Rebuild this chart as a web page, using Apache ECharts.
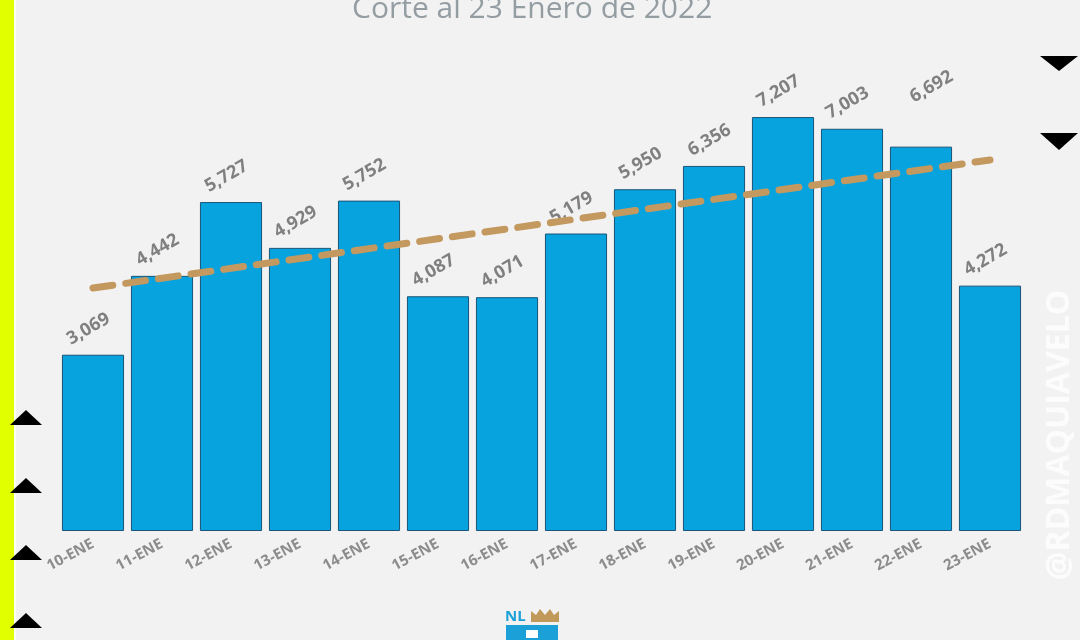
<!DOCTYPE html>
<html><head><meta charset="utf-8">
<script src="https://cdn.jsdelivr.net/npm/echarts@6/dist/echarts.min.js"></script>
<style>html,body{margin:0;padding:0;background:#f2f2f2}#c{width:1080px;height:640px}</style>
</head><body><div id="c"></div>
<script>
const categories = ['10-ENE','11-ENE','12-ENE','13-ENE','14-ENE','15-ENE','16-ENE','17-ENE','18-ENE','19-ENE','20-ENE','21-ENE','22-ENE','23-ENE'];
const values = [3069,4442,5727,4929,5752,4087,4071,5179,5950,6356,7207,7003,6692,4272];
const trendEnds = [4230, 6460];
const titleText = 'Corte al 23 Enero de 2022';

const trendData = categories.map((c,i)=> i===0 ? trendEnds[0] : (i===categories.length-1 ? trendEnds[1] : null));
const barData = values.map((v,i)=> i===12 ? {value:v, label:{offset:[30,-22]}} : v);

const chart = echarts.init(document.getElementById('c'));
const tri = (pts)=>({type:'polygon', shape:{points:pts}, style:{fill:'#000'}, silent:true});
chart.setOption({
  backgroundColor:'#f2f2f2',
  animation:false,
  title:{text:titleText, left:347, top:-11, textStyle:{fontFamily:'Open Sans', fontWeight:'normal', fontSize:30, color:'#939da2'}},
  grid:{left:58.5, right:55.5, top:71.5, bottom:109},
  xAxis:{type:'category', data:categories,
    axisLine:{show:false}, axisTick:{show:false},
    axisLabel:{rotate:28, margin:12, color:'#8c8c8c', fontWeight:'bold', fontSize:15, fontFamily:'Open Sans'}},
  yAxis:{type:'value', min:0, max:8000, show:false, splitLine:{show:false}},
  series:[
    {type:'bar', data:barData, barCategoryGap:'10%',
     itemStyle:{color:'#06a3df', borderColor:'#1b5478', borderWidth:1},
     label:{show:true, position:'top', rotate:30, distance:18, color:'#808080', fontWeight:'bold', fontSize:18, fontFamily:'Open Sans',
       formatter:p=>p.value.toLocaleString('en-US')}},
    {type:'line', data:trendData, connectNulls:true, symbol:'none', z:5,
     lineStyle:{color:'#c4995f', width:7, type:[20,13], cap:'round'}}
  ],
  graphic:[
    {type:'rect', shape:{x:0,y:0,width:14,height:640}, style:{fill:'#e2ff00'}, silent:true},
    {type:'rect', shape:{x:14,y:0,width:2,height:640}, style:{fill:'#fafff0'}, silent:true},
    tri([[10,425],[26,410],[42,425]]),
    tri([[10,493],[26,478],[42,493]]),
    tri([[10,560],[26,545],[42,560]]),
    tri([[10,628],[26,613],[42,628]]),
    tri([[1040,56],[1078,56],[1059,71]]),
    tri([[1040,133],[1078,133],[1059,150]]),
    {type:'text', x:1060, y:435, rotation:Math.PI/2,
     style:{text:'@RDMAQUIAVELO', fill:'rgba(255,255,255,0.75)', font:'bold 32px "Open Sans"', align:'center', verticalAlign:'middle'}, silent:true},
    {type:'text', x:505, y:609, style:{text:'NL', fill:'#1ba0d8', font:'bold 15px "Open Sans"'}, silent:true},
    {type:'polygon', shape:{points:[[531,611],[536,615],[540,609],[545,615],[550,609],[554,615],[559,611],[559,622],[531,622]]}, style:{fill:'#c19a5b'}, silent:true},
    {type:'rect', shape:{x:506,y:625,width:52,height:15}, style:{fill:'#1ba0d8'}, silent:true},
    {type:'rect', shape:{x:526,y:630,width:12,height:8}, style:{fill:'#ffffff'}, silent:true}
  ]
});
</script></body></html>
